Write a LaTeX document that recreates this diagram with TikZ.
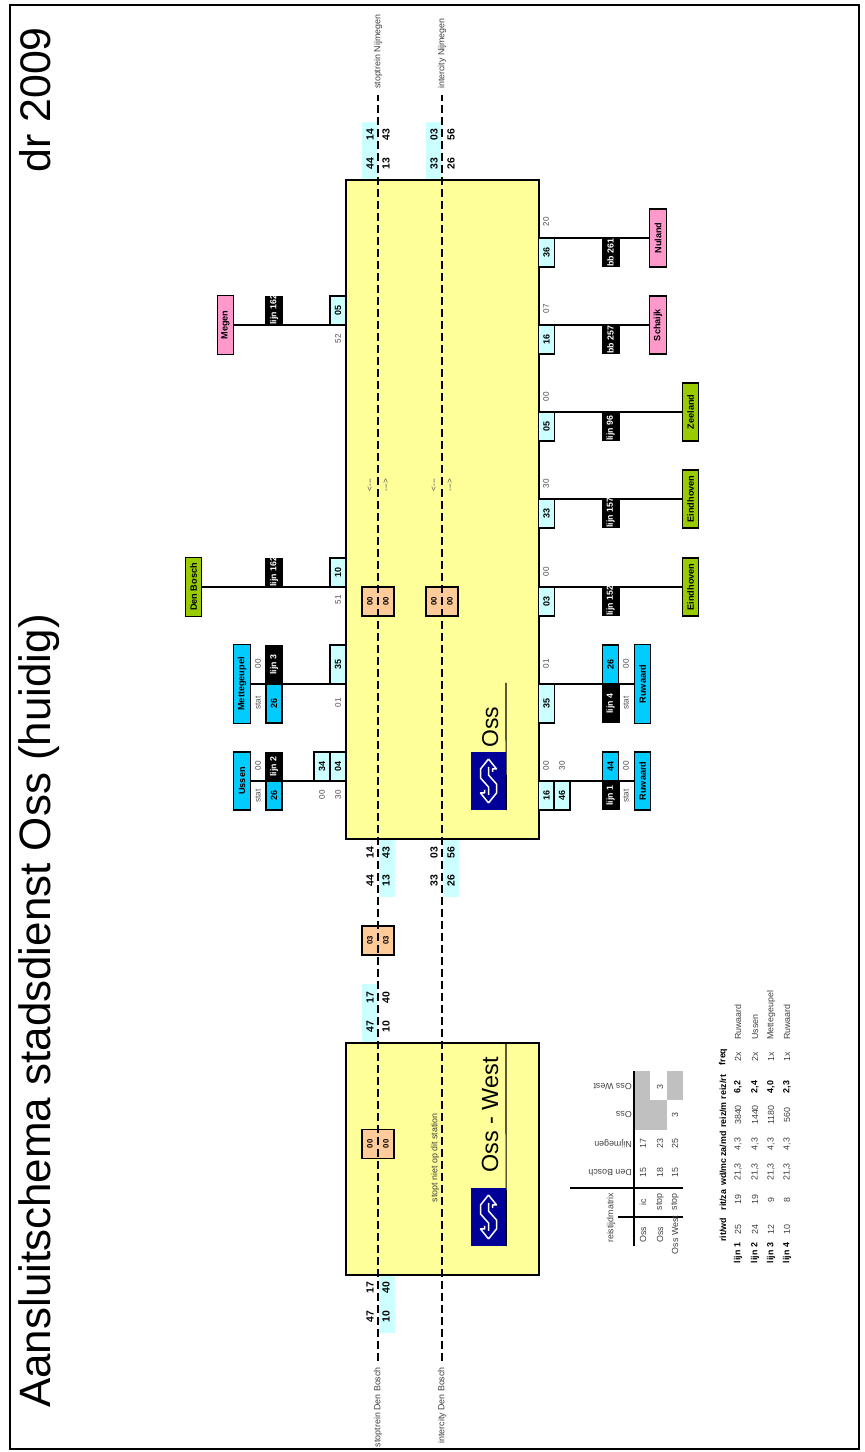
\documentclass[tikz,border=0pt]{standalone}
\usepackage{fontspec}
\setmainfont{Liberation Sans}
\definecolor{stationgeel}{HTML}{FFFF99}
\definecolor{tijdblauw}{HTML}{CCFFFF}
\definecolor{stadblauw}{HTML}{00CCFF}
\definecolor{streekgroen}{HTML}{99CC00}
\definecolor{busroze}{HTML}{FF99CC}
\definecolor{overstap}{HTML}{FFCC99}
\definecolor{nsblauw}{HTML}{000099}
\definecolor{matrixgrijs}{HTML}{C0C0C0}
\newcommand{\lijnkort}[1]{\makebox[28bp][l]{#1}}
\newcommand{\fs}[1]{\fontsize{#1}{#1}\selectfont}
\begin{document}
\begin{tikzpicture}[
  rotate=90, transform shape, x=1bp, y=1bp,
  stationbox/.style={draw, line width=1.6pt, fill=stationgeel, minimum height=193bp, inner sep=0pt},
  doelbox/.style={draw, line width=1.1pt, minimum height=16.5bp, inner sep=0pt, font=\fs{9.2}\bfseries},
  lijnbox/.style={fill=black, text=white, minimum width=29bp, minimum height=18bp, inner sep=0pt, font=\fs{8.8}\bfseries},
  stadbox/.style={draw, line width=1.1pt, fill=stadblauw, minimum height=16bp, inner sep=0pt, font=\fs{9}\bfseries},
  tijdbox/.style={draw, line width=1.1pt, fill=tijdblauw, minimum width=29bp, minimum height=16bp, inner sep=0pt, font=\fs{9}\bfseries},
  klein/.style={inner sep=0pt, text=black!70, font=\fs{8.2}},
  kadertekst/.style={inner sep=0pt, text=black!75, font=\fs{8.9}},
  vet/.style={inner sep=0pt, font=\fs{8.9}\bfseries},
  patch/.style={fill=tijdblauw, minimum width=58bp, minimum height=16bp, inner sep=0pt},
  tijd/.style={inner sep=0pt, font=\fs{10.4}\bfseries},
  overstapbox/.style={draw, line width=1.1pt, fill=overstap, minimum width=29bp, minimum height=32bp, inner sep=0pt,
                      align=center, font=\fontsize{7.8}{16}\selectfont\bfseries},
  logobox/.style={fill=nsblauw, minimum width=58bp, minimum height=35bp, inner sep=0pt},
  treinlijn/.style={line width=2.2pt, dash pattern=on 8bp off 4bp},
  richting/.style={kadertekst, inner xsep=6bp},
  koppel/.style={line width=1.1pt},
  pics/nslogo/.style={code={
    \draw[white, line width=1.5pt, line join=round]
      (22,0) -- (12,8) -- (3,8) -- (-6,0) -- (-14,0)
      (22,0) -- (12,-8) -- (12,-4) -- (9,-4)
      (-22,0) -- (-12,-8) -- (-3,-8) -- (6,0) -- (14,0)
      (-22,0) -- (-12,8) -- (-12,4) -- (-9,4);
  }},
]
  \useasboundingbox (0,0) rectangle (1452,-864);
  \draw[line width=2pt] (3,-10) rectangle (1446.5,-859);

  % Kop
  \node[anchor=base west, inner sep=0pt, font=\fs{44.1}] (titel) at (44,-50) {Aansluitschema stadsdienst Oss (huidig)};
  \node[anchor=base east, inner sep=0pt, font=\fs{43}] (jaar) at (1425,-50) {dr 2009};

  % Vlakken achter de treintijden
  \foreach \u/\v [count=\i] in {1301/370, 1301/434, 584/386.5, 584/450.5, 438.5/370, 148/386.5}
    \node[patch] (vlak\i) at (\u,-\v) {};

  % Stations
  \node[stationbox, minimum width=659bp] (oss) at (942.5,-442.5) {};
  \node[stationbox, minimum width=232bp] (osswest) at (293,-442.5) {};
  \node[logobox] (osslogo) at (671,-488.5) {};
  \node[logobox] (westlogo) at (235,-488.5) {};
  \pic at (osslogo) {nslogo};
  \pic at (westlogo) {nslogo};
  \coordinate (ossrand) at (769,-506);
  \coordinate (westrand) at (osswest.east |- ossrand);
  \draw[line width=1.2pt] (osslogo.south west) -- (ossrand);
  \draw[line width=1.2pt] (westlogo.south west) -- (westrand);
  \node[anchor=base west, inner sep=0pt, font=\fs{23}] (ossnaam) at (704,-498) {Oss};
  \node[anchor=base west, inner sep=0pt, font=\fs{23.5}] (westnaam) at (279,-498) {Oss - West};
  \node[kadertekst] (nietstop) at (294,-435) {stopt niet op dit station};

  % Bestemmingen boven
  \node[doelbox, fill=streekgroen, minimum width=59bp] (denbosch) at (865,-193.5) {Den Bosch};
  \node[doelbox, fill=busroze, minimum width=59bp] (megen) at (1127,-225.5) {Megen};
  \node[doelbox, fill=stadblauw, minimum width=79bp] (mettegeupel) at (768,-242) {Mettegeupel};
  \node[doelbox, fill=stadblauw, minimum width=58bp] (ussen) at (671,-242) {Ussen};
  \foreach \m in {denbosch, megen, mettegeupel, ussen}
    \draw[koppel] (\m.south) -- (\m.south |- oss.north);

  % Bestemmingen onder
  \node[doelbox, fill=stadblauw, minimum width=79bp] (ruwaardb) at (768,-642.5) {Ruwaard};
  \node[doelbox, fill=stadblauw, minimum width=58bp] (ruwaarda) at (671,-642.5) {Ruwaard};
  \node[doelbox, fill=streekgroen, minimum width=58bp] (eindhovena) at (865,-690.5) {Eindhoven};
  \node[doelbox, fill=streekgroen, minimum width=58bp] (eindhovenb) at (953,-690.5) {Eindhoven};
  \node[doelbox, fill=streekgroen, minimum width=58bp] (zeeland) at (1040,-690.5) {Zeeland};
  \node[doelbox, fill=busroze, minimum width=58bp] (schaijk) at (1127,-658) {Schaijk};
  \node[doelbox, fill=busroze, minimum width=58bp] (nuland) at (1214,-658) {Nuland};
  \foreach \m in {ruwaardb, ruwaarda, eindhovena, eindhovenb, zeeland, schaijk, nuland}
    \draw[koppel] (\m.north) -- (\m.north |- oss.south);

  % Lijnen boven
  \node[lijnbox] (l162a) at (879.5,-274) {\lijnkort{lijn 162}};
  \node[lijnbox] (l162b) at (1141.5,-274) {\lijnkort{lijn 162}};
  \node[lijnbox, minimum width=39bp] (l3) at (787.5,-274) {lijn 3};
  \node[stadbox, minimum width=39bp] (s3) at (748.5,-274) {26};
  \node[lijnbox] (l2) at (685.5,-274) {lijn 2};
  \node[stadbox, minimum width=29bp] (s2) at (656.5,-274) {26};
  \node[klein] (v3) at (788,-258) {00};
  \node[klein] (a3) at (749,-258) {stat};
  \node[klein] (v2) at (686,-258) {00};
  \node[klein] (a2) at (656,-258) {stat};

  % Tijden boven
  \node[tijdbox] (t10) at (879.5,-338) {10};
  \node[tijdbox] (t05a) at (1141.5,-338) {05};
  \node[tijdbox, minimum width=39bp] (t35a) at (787.5,-338) {35};
  \node[tijdbox] (t04) at (685.5,-338) {04};
  \node[tijdbox] (t34) at (685.5,-322) {34};
  \node[klein] (k51) at (852,-338) {51};
  \node[klein] (k52) at (1113,-338) {52};
  \node[klein] (k01a) at (749,-338) {01};
  \node[klein] (k30a) at (657,-338) {30};
  \node[klein] (k00a) at (657,-322) {00};

  % Lijnen onder
  \node[lijnbox] (l152) at (850.5,-610.5) {\lijnkort{lijn 152}};
  \node[lijnbox] (l157) at (938.5,-610.5) {\lijnkort{lijn 157}};
  \node[lijnbox] (l96) at (1025.5,-610.5) {\lijnkort{lijn 96}};
  \node[lijnbox] (b257) at (1112.5,-610.5) {\lijnkort{bb 257}};
  \node[lijnbox] (b261) at (1199.5,-610.5) {\lijnkort{bb 261}};
  \node[lijnbox, minimum width=39bp] (l4) at (748.5,-610.5) {lijn 4};
  \node[stadbox, minimum width=39bp] (s4) at (787.5,-610.5) {26};
  \node[lijnbox] (l1) at (656.5,-610.5) {lijn 1};
  \node[stadbox, minimum width=29bp] (s1) at (685.5,-610.5) {44};
  \node[klein] (v4) at (788,-626) {00};
  \node[klein] (a4) at (749,-626) {stat};
  \node[klein] (v1) at (686,-626) {00};
  \node[klein] (a1) at (656,-626) {stat};

  % Tijden onder
  \node[tijdbox] (t03) at (850.5,-546.5) {03};
  \node[tijdbox] (t33) at (938.5,-546.5) {33};
  \node[tijdbox] (t05b) at (1025.5,-546.5) {05};
  \node[tijdbox] (t16b) at (1112.5,-546.5) {16};
  \node[tijdbox] (t36) at (1199.5,-546.5) {36};
  \node[tijdbox, minimum width=39bp] (t35b) at (748.5,-546.5) {35};
  \node[tijdbox] (t16a) at (656.5,-546.5) {16};
  \node[tijdbox] (t46) at (656.5,-562) {46};
  \node[klein] (k00b) at (880,-546) {00};
  \node[klein] (k30b) at (968,-546) {30};
  \node[klein] (k00c) at (1055,-546) {00};
  \node[klein] (k07) at (1143,-546) {07};
  \node[klein] (k20) at (1230,-546) {20};
  \node[klein] (k01b) at (788,-546) {01};
  \node[klein] (k00d) at (686,-546) {00};
  \node[klein] (k30c) at (686,-562) {30};

  % Overstappen
  \node[overstapbox] (ov1) at (850.5,-378) {00\\00};
  \node[overstapbox] (ov2) at (850.5,-442) {00\\00};
  \node[overstapbox] (ov3) at (511.5,-378) {03\\03};
  \node[overstapbox] (ov4) at (308,-378) {00\\00};

  % Treinen
  \node[richting, anchor=east] (stopdb) at (91,-378) {stoptrein Den Bosch};
  \node[richting, anchor=east] (icdb) at (91,-442) {intercity Den Bosch};
  \node[richting, anchor=west] (stopnm) at (1357,-378) {stoptrein Nijmegen};
  \node[richting, anchor=west] (icnm) at (1357,-442) {intercity Nijmegen};
  \draw[treinlijn] (stopdb) -- (stopnm);
  \draw[treinlijn] (icdb) -- (icnm);

  % Treintijden
  \foreach \u/\a/\b/\c/\d [count=\i] in {1317/14/43/03/56, 1288/44/13/33/26, 599/14/43/03/56, 571/44/13/33/26}{
    \node[tijd] (ta\i) at (\u,-370) {\a};
    \node[tijd] (tb\i) at (\u,-386) {\b};
    \node[tijd] (tc\i) at (\u,-434) {\c};
    \node[tijd] (td\i) at (\u,-451) {\d};
  }
  \foreach \u/\a/\b [count=\i] in {454/17/40, 425/47/10, 164/17/40, 135/47/10}{
    \node[tijd] (te\i) at (\u,-370) {\a};
    \node[tijd] (tf\i) at (\u,-386) {\b};
  }
  \node[klein] (pa) at (967,-370) {{<}-{}-{}-};
  \node[klein] (pb) at (967,-386) {-{}-{}-{>}};
  \node[klein] (pc) at (967,-434) {{<}-{}-{}-};
  \node[klein] (pd) at (967,-450) {-{}-{}-{>}};

  % Reistijdmatrix
  \fill[matrixgrijs] (322,-634) rectangle (352,-667);
  \fill[matrixgrijs] (352,-634) rectangle (381,-650);
  \fill[matrixgrijs] (352,-667) rectangle (381,-683);
  \draw[line width=1.2pt] (206,-634) -- (381,-634);
  \draw[line width=1.2pt] (264,-570) -- (264,-683);
  \draw[line width=1.2pt] (235,-618) -- (235,-683);
  \node[kadertekst] (reistijd) at (234,-611) {reistijdmatrix};
  \foreach \u/\t [count=\i] in {365/Oss West, 337/Oss, 308/Nijmegen, 279/Den Bosch}
    \node[kadertekst, rotate=90, anchor=west] (kolom\i) at (\u,-632) {\t};
  \foreach \v/\a/\b/\c/\d [count=\i] in {643/Oss/ic/15/17, 660/Oss/stop/18/23, 675/Oss West/stop/15/25}{
    \node[kadertekst] (rija\i) at (217,-\v) {\a};
    \node[kadertekst] (rijb\i) at (250,-\v) {\b};
    \node[kadertekst] (rijc\i) at (279,-\v) {\c};
    \node[kadertekst] (rijd\i) at (308,-\v) {\d};
  }
  \node[kadertekst] (drie1) at (365,-660) {3};
  \node[kadertekst] (drie2) at (337,-675) {3};

  % Tabel van de lijnen
  \node[vet] (kop1) at (222,-723) {rit/wd};
  \node[vet] (kop2) at (252,-723) {rit/za};
  \node[vet] (kop3) at (280,-723) {wd/mc};
  \node[vet] (kop4) at (308,-723) {za/md};
  \node[vet] (kop5) at (337,-723) {reiz/m};
  \node[vet] (kop6) at (365,-723) {reiz/rt};
  \node[vet] (kop7) at (395,-723) {freq};
  \foreach \v/\l/\a/\b/\c/\d/\e/\f/\g/\h [count=\i] in {
      738/lijn 1/25/19/{21,3}/{4,3}/3840/{6,2}/2x/Ruwaard,
      755/lijn 2/24/19/{21,3}/{4,3}/1440/{2,4}/2x/Ussen,
      771/lijn 3/12/9/{21,3}/{4,3}/1180/{4,0}/1x/Mettegeupel,
      787/lijn 4/10/8/{21,3}/{4,3}/560/{2,3}/1x/Ruwaard}{
    \node[vet] (tl\i) at (199,-\v) {\l};
    \node[kadertekst] (ta-\i) at (222,-\v) {\a};
    \node[kadertekst] (tb-\i) at (252,-\v) {\b};
    \node[kadertekst] (tc-\i) at (280,-\v) {\c};
    \node[kadertekst] (td-\i) at (308,-\v) {\d};
    \node[kadertekst] (te-\i) at (337,-\v) {\e};
    \node[vet] (tf-\i) at (365,-\v) {\f};
    \node[kadertekst] (tg-\i) at (395,-\v) {\g};
    \node[kadertekst, anchor=west] (th-\i) at (412,-\v) {\h};
  }
\end{tikzpicture}
\end{document}
